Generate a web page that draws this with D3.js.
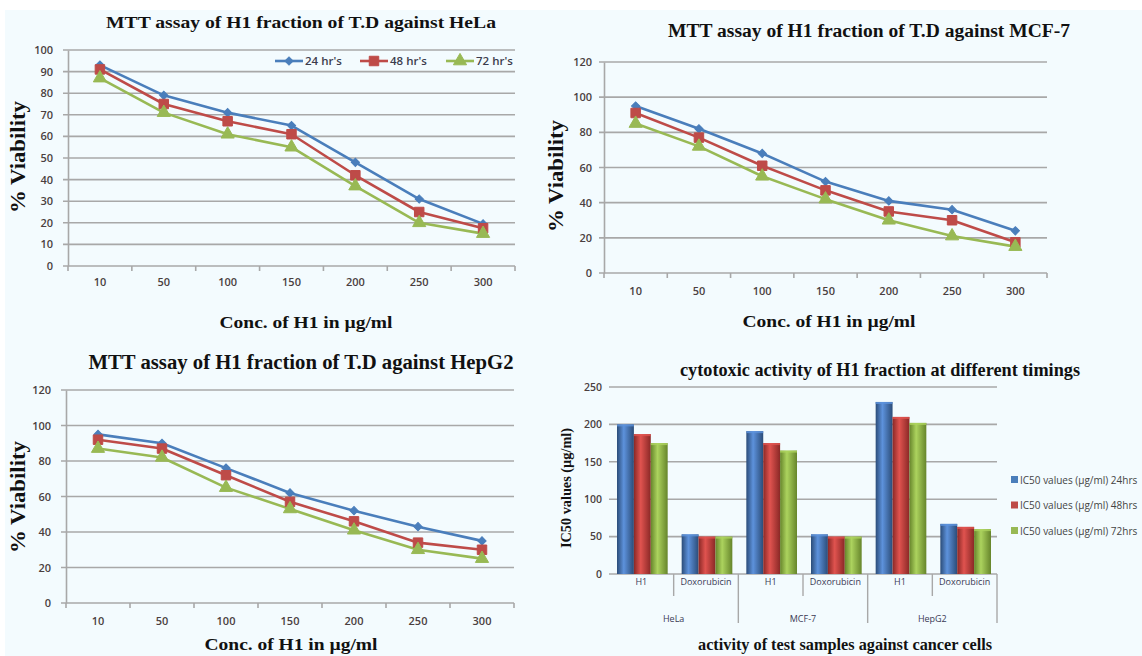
<!DOCTYPE html>
<html>
<head>
<meta charset="utf-8">
<script src="https://cdn.jsdelivr.net/npm/d3@7/dist/d3.min.js"></script>
<style>
  body { margin: 0; background: #ffffff; }
  svg { display: block; }
</style>
</head>
<body>
<svg class="chart"></svg>
<script>
// ---- data ----
const concLabels = ['10', '50', '100', '150', '200', '250', '300'];
const seriesNames = ["24 hr's", "48 hr's", "72 hr's"];

const helaViability = [
    [93, 79, 71, 65, 48, 31, 19.5],
    [91, 75, 67, 61, 42, 25, 17.5],
    [87, 71, 61, 55, 37, 20, 15]
];
const mcf7Viability = [
    [95, 82, 68, 52, 41, 36, 24],
    [91, 77, 61, 47, 35, 30, 17.5],
    [85, 72, 55, 42, 30, 21, 15]
];
const hepg2Viability = [
    [95, 90, 76, 62, 52, 43, 35],
    [92, 87, 72, 57, 46, 34, 30],
    [87, 82, 65, 53, 41, 30, 25]
];

const cellLines = ['HeLa', 'MCF-7', 'HepG2'];
const samples = ['H1', 'Doxorubicin'];
const icSeriesNames = ['IC50 values (µg/ml) 24hrs', 'IC50 values (µg/ml) 48hrs', 'IC50 values (µg/ml) 72hrs'];
// one row per cell line / sample pair, one value per timing
const ic50Values = [
    [200, 187, 175], [53, 50, 50],
    [191, 175, 165], [53, 50, 50],
    [230, 210, 202], [67, 63, 60]
];

const helaTicks = [0, 10, 20, 30, 40, 50, 60, 70, 80, 90, 100];
const viabTicks = [0, 20, 40, 60, 80, 100, 120];
const icTicks = [0, 50, 100, 150, 200, 250];

// ---- styling ----
const lineColors = ['#4a7ebb', '#be4b48', '#98b954'];
const barDark = ['#2b4c78', '#8a2826', '#66852b'];
const barLight = ['#5d92dc', '#e0534f', '#acd35e'];
const gridColor = '#a8a8a8';
const tickColor = '#4a3f3f';
const serif = '"Liberation Serif", "Times New Roman", serif';
const sans = '"Open Sans", "Liberation Sans", sans-serif';

const svg = d3.select('body').select('.chart')
    .attr('width', 1142)
    .attr('height', 656);

svg.append('rect')
    .attr('x', 5).attr('y', 10)
    .attr('width', 1137).attr('height', 646)
    .style('fill', '#f3fbfe');

function addText(g, txt, x, y, size, width, rotate) {
    let t = g.append('text')
        .attr('x', x)
        .attr('y', y)
        .attr('text-anchor', 'middle')
        .style('font-family', serif)
        .style('font-weight', 'bold')
        .style('font-size', size + 'px')
        .style('fill', '#111')
        .text(txt);
    if (width) t.attr('textLength', width).attr('lengthAdjust', 'spacingAndGlyphs');
    if (rotate) t.attr('transform', 'rotate(-90,' + x + ',' + y + ')');
    return t;
}

const markerTypes = [
    d3.symbol().type(d3.symbolSquare).size(34),
    d3.symbol().type(d3.symbolSquare).size(90),
    d3.symbol().type(d3.symbolTriangle).size(75)
];

function drawMarker(g, i, cx, cy) {
    g.append('path')
        .attr('d', markerTypes[i]())
        .attr('transform', 'translate(' + cx + ',' + cy + ')' + (i == 0 ? ' rotate(45)' : ''))
        .style('fill', lineColors[i])
        .style('stroke', lineColors[i])
        .style('stroke-width', 1);
}

function drawLineChart(cfg) {
    const g = svg.append('g');
    const x = d3.scaleBand().domain(concLabels).range([cfg.left, cfg.right]);
    const y = d3.scaleLinear().domain([0, d3.max(cfg.ticks)]).range([cfg.bottom, cfg.top]);

    // gridlines
    g.selectAll('.grid')
        .data(cfg.ticks)
        .enter().append('line')
        .attr('x1', cfg.left - 5)
        .attr('x2', cfg.right)
        .attr('y1', d => y(d))
        .attr('y2', d => y(d))
        .style('stroke', gridColor)
        .style('stroke-width', 1.6);

    // y axis labels
    let yAxis = g.append('g')
        .attr('transform', 'translate(' + cfg.left + ',0)')
        .call(d3.axisLeft(y).tickValues(cfg.ticks).tickSize(0).tickPadding(cfg.yPad));
    yAxis.select('.domain').style('stroke', gridColor).style('stroke-width', 1.6);
    yAxis.selectAll('text')
        .style('font-family', sans).style('font-size', '11px')
        .style('font-weight', 600).style('fill', tickColor);

    // x axis labels
    let xAxis = g.append('g')
        .attr('transform', 'translate(0,' + cfg.bottom + ')')
        .call(d3.axisBottom(x).tickSize(0).tickPadding(cfg.xPad));
    xAxis.select('.domain').remove();
    xAxis.selectAll('text')
        .style('font-family', sans).style('font-size', '11px')
        .style('font-weight', 600).style('fill', tickColor);

    // category boundary ticks
    g.selectAll('.xtick')
        .data(d3.range(concLabels.length + 1))
        .enter().append('line')
        .attr('x1', i => cfg.left + i * x.step())
        .attr('x2', i => cfg.left + i * x.step())
        .attr('y1', cfg.bottom)
        .attr('y2', cfg.bottom + 5)
        .style('stroke', gridColor)
        .style('stroke-width', 1.6);

    // lines + markers
    let line = d3.line()
        .x((d, i) => x(concLabels[i]) + x.bandwidth() / 2)
        .y(d => y(d));

    cfg.data.forEach((vals, s) => {
        g.append('path')
            .attr('d', line(vals))
            .style('fill', 'none')
            .style('stroke', lineColors[s])
            .style('stroke-width', 2.6)
            .style('stroke-linejoin', 'round');
    });
    cfg.data.forEach((vals, s) => {
        vals.forEach((v, i) => drawMarker(g, s, x(concLabels[i]) + x.bandwidth() / 2, y(v)));
    });

    // legend
    if (cfg.legend) {
        let lg = g.append('g');
        cfg.legend.forEach((lx, s) => {
            lg.append('line')
                .attr('x1', lx).attr('x2', lx + 28)
                .attr('y1', cfg.legendY).attr('y2', cfg.legendY)
                .style('stroke', lineColors[s]).style('stroke-width', 2.6);
            drawMarker(lg, s, lx + 14, cfg.legendY);
            lg.append('text')
                .attr('x', lx + 30).attr('y', cfg.legendY)
                .attr('dy', '0.35em')
                .style('font-family', sans).style('font-size', '11.5px')
                .style('font-weight', 600).style('fill', '#3c3c4c')
                .text(seriesNames[s]);
        });
    }

    addText(g, cfg.title, cfg.titleX, cfg.titleY, cfg.titleSize, cfg.titleW);
    addText(g, 'Conc. of H1 in µg/ml', cfg.xTitleX, cfg.xTitleY, 17, 173);
    addText(g, '%  Viability', cfg.yTitleX, cfg.yTitleY, 20, 112, true);
}

drawLineChart({
    data: helaViability, ticks: helaTicks,
    left: 68, right: 515, top: 50, bottom: 266, yPad: 15, xPad: 12,
    title: 'MTT assay of H1 fraction of T.D against HeLa',
    titleX: 301, titleY: 28, titleSize: 17, titleW: 390,
    xTitleX: 306, xTitleY: 328, yTitleX: 25, yTitleY: 157,
    legend: [275, 360, 446], legendY: 61
});

drawLineChart({
    data: mcf7Viability, ticks: viabTicks,
    left: 604, right: 1047, top: 62, bottom: 273, yPad: 12, xPad: 14,
    title: 'MTT assay of H1 fraction of T.D against MCF-7',
    titleX: 869, titleY: 37, titleSize: 18, titleW: 402,
    xTitleX: 829, xTitleY: 327, yTitleX: 563, yTitleY: 176
});

drawLineChart({
    data: hepg2Viability, ticks: viabTicks,
    left: 66, right: 514, top: 390, bottom: 603, yPad: 15, xPad: 14,
    title: 'MTT assay of H1 fraction of T.D against HepG2',
    titleX: 301, titleY: 369, titleSize: 20, titleW: 425,
    xTitleX: 291, xTitleY: 650, yTitleX: 25, yTitleY: 497
});

// ---- bar chart ----
function drawBarChart() {
    const left = 609, right = 997, top = 387, bottom = 574;
    const g = svg.append('g');

    let defs = svg.append('defs');
    lineColors.forEach((c, s) => {
        let grad = defs.append('linearGradient')
            .attr('id', 'bar' + s)
            .attr('x1', '0%').attr('x2', '100%').attr('y1', '0%').attr('y2', '0%');
        grad.append('stop').attr('offset', '0%').attr('stop-color', barDark[s]);
        grad.append('stop').attr('offset', '40%').attr('stop-color', barLight[s]);
        grad.append('stop').attr('offset', '100%').attr('stop-color', barDark[s]);
    });

    const keys = [];
    cellLines.forEach(c => samples.forEach(s => keys.push(c + '|' + s)));

    const x = d3.scaleBand().domain(keys).range([left, right]);
    const xs = d3.scaleBand().domain(d3.range(3)).range([8, x.bandwidth() - 6]).padding(0);
    const y = d3.scaleLinear().domain([0, d3.max(icTicks)]).range([bottom, top]);

    g.selectAll('.grid')
        .data(icTicks)
        .enter().append('line')
        .attr('x1', left).attr('x2', right)
        .attr('y1', d => y(d)).attr('y2', d => y(d))
        .style('stroke', gridColor).style('stroke-width', 1.6);

    let yAxis = g.append('g')
        .attr('transform', 'translate(' + left + ',0)')
        .call(d3.axisLeft(y).tickValues(icTicks).tickSize(0).tickPadding(7));
    yAxis.select('.domain').remove();
    yAxis.selectAll('text')
        .style('font-family', sans).style('font-size', '10.5px')
        .style('font-weight', 600).style('fill', tickColor);

    // bars
    ic50Values.forEach((vals, k) => {
        vals.forEach((v, s) => {
            g.append('rect')
                .attr('x', x(keys[k]) + xs(s))
                .attr('y', y(v))
                .attr('width', xs.bandwidth())
                .attr('height', bottom - y(v))
                .style('fill', 'url(#bar' + s + ')');
            g.append('rect')
                .attr('x', x(keys[k]) + xs(s))
                .attr('y', y(v))
                .attr('width', xs.bandwidth())
                .attr('height', 2)
                .style('fill', barLight[s])
                .style('opacity', 0.8);
        });
    });

    // category separators
    keys.forEach((k, i) => {
        if (i == 0) return;
        let big = i % 2 == 0;
        g.append('line')
            .attr('x1', x(k)).attr('x2', x(k))
            .attr('y1', bottom).attr('y2', big ? 623 : 596)
            .style('stroke', gridColor).style('stroke-width', 1.4);
    });
    g.append('line')
        .attr('x1', right).attr('x2', right)
        .attr('y1', bottom).attr('y2', 623)
        .style('stroke', gridColor).style('stroke-width', 1.4);

    g.selectAll('.lvl1')
        .data(keys)
        .enter().append('text')
        .attr('x', d => x(d) + x.bandwidth() / 2)
        .attr('y', 582)
        .attr('dy', '0.35em')
        .attr('text-anchor', 'middle')
        .style('font-family', sans).style('font-size', '9px')
        .style('fill', '#3a3a55')
        .text(d => d.split('|')[1]);

    g.selectAll('.lvl2')
        .data(cellLines)
        .enter().append('text')
        .attr('x', (d, i) => left + (i + 0.5) * 2 * x.step())
        .attr('y', 619)
        .attr('dy', '0.35em')
        .attr('text-anchor', 'middle')
        .style('font-family', sans).style('font-size', '9px')
        .style('fill', '#3a3a55')
        .text(d => d);

    // legend
    icSeriesNames.forEach((name, s) => {
        let ly = 480 + s * 25.5;
        g.append('rect')
            .attr('x', 1011).attr('y', ly - 4)
            .attr('width', 7).attr('height', 7)
            .style('fill', lineColors[s]);
        g.append('text')
            .attr('x', 1020).attr('y', ly)
            .attr('dy', '0.35em')
            .style('font-family', sans).style('font-size', '10px')
            .style('fill', '#444')
            .text(name);
    });

    addText(g, 'cytotoxic activity of H1 fraction at different timings', 880, 376, 19, 400);
    addText(g, 'activity of test samples against cancer cells', 845, 650, 16, 294);
    addText(g, 'IC50 values (µg/ml)', 571, 488, 15, 120, true);
}

drawBarChart();
</script>
</body>
</html>
